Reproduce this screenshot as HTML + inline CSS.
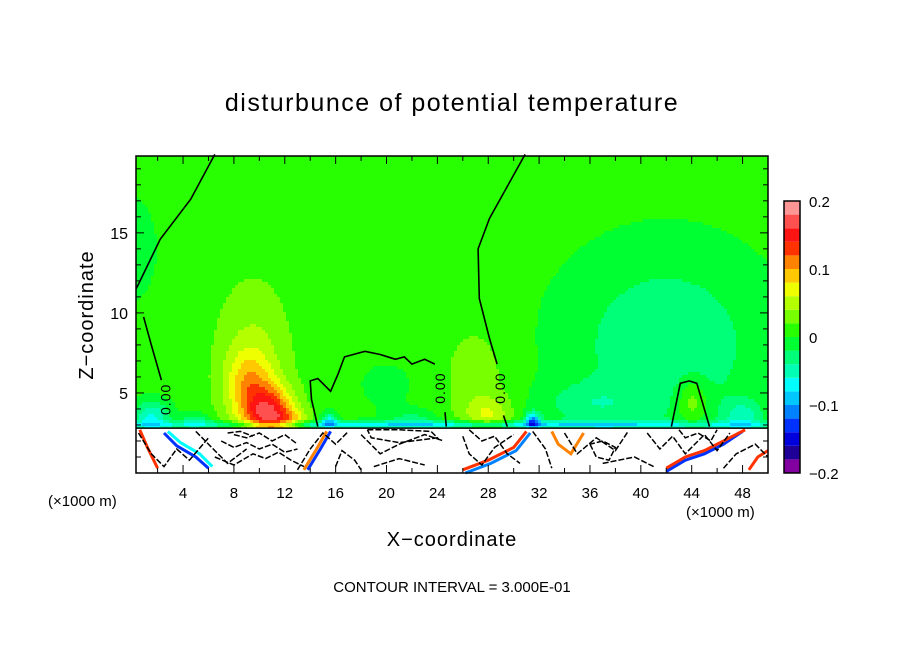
<!DOCTYPE html>
<html><head><meta charset="utf-8"><style>
html,body{margin:0;padding:0;background:#fff;}
svg{display:block;font-family:"Liberation Sans",sans-serif;}
</style></head><body>
<svg id="chart" width="904" height="654" viewBox="0 0 904 654">
<rect width="904" height="654" fill="#fff"/>
<text x="452" y="111" text-anchor="middle" font-size="25" letter-spacing="1.5">disturbunce of potential temperature</text>
<g id="field"></g>
<g id="lines"></g>
<g id="axes"></g>
<g id="cbar"></g>
<text x="452" y="546" text-anchor="middle" font-size="20" letter-spacing="1">X−coordinate</text>
<text transform="translate(93,315) rotate(-90)" text-anchor="middle" font-size="20" letter-spacing="1">Z−coordinate</text>
<text x="48" y="506" font-size="15">(×1000 m)</text>
<text x="686" y="517" font-size="15">(×1000 m)</text>
<text x="452" y="592" text-anchor="middle" font-size="15">CONTOUR INTERVAL = 3.000E-01</text>
</svg>
<script>
// ---- data ----
const xTicks = [4,8,12,16,20,24,28,32,36,40,44,48];
const zTicks = [5,10,15];
const levels = [-0.2,-0.18,-0.16,-0.14,-0.12,-0.1,-0.08,-0.06,-0.04,-0.02,0,0.02,0.04,0.06,0.08,0.1,0.12,0.14,0.16,0.18,0.2];
const levelColors = ["#8200a0","#1e0096","#0000dc","#0032ff","#0082ff","#00c8ff","#00ffff","#00ffb4","#00ff78","#00ff32","#28ff00","#78ff00","#b4ff00","#f0ff00","#ffc800","#ff8200","#ff3200","#ff1414","#ff5050","#ff9696"];
const cbarLabels = ["0.2","0.1","0","−0.1","−0.2"];
const cbarLabelVals = [0.2,0.1,0,-0.1,-0.2];
const baseValue = 0.008;
const blobX   = [10.8, 9.2, 9.5,  28,   27,   1.5,  0,     20,    42,    36,    31.5, 15.5, 44,   48,    25,   5,     22,   12.5];
const blobZ   = [3.6,  5.5, 7,    3.6,  6,    3.5,  14,    5.5,   8,     4.3,   3.3,  3.3,  4.5,  3.5,   3.0,  3.3,   3.4,  3.2];
const blobAmp = [0.13, 0.06,0.035,0.045,0.022,-0.07,-0.012,-0.012,-0.045,-0.03, -0.1, -0.07,0.045,-0.05, -0.08,-0.04, -0.03, 0.04];
const blobSx  = [1.9,  1.8, 3,    1.8,  2.8,  1.5,  3,     3,     8,     4,     0.6,  0.6,  1.2,  1.5,   30,   1.2,   2,    1.5];
const blobSz  = [1.7,  2.2, 5,    1.2,  3.5,  1.0,  5,     2,     6,     1.3,   0.5,  0.5,  1.5,  1.0,   0.25, 0.5,   0.6,  0.8];
const groundTop = 2.8;
// zero contour lines [x,z]
const zeroLines = [
 [[6.5,19.9],[4.6,17.1],[2.2,14.6],[0.5,11.8],[0.3,11.5]],
 [[0.9,9.75],[1.5,8],[2.3,5.8]],
 [[30.9,19.9],[28.1,15.9],[27.2,14],[27.3,10.9],[28.1,8.4],[28.7,6.8]],
 [[29.2,3.6],[29.5,2.9]],
 [[14.6,2.9],[14.1,4.6],[14,5.75],[14.6,5.9],[15.6,5.1],[16.2,6.2],[16.7,7.25],[18.3,7.6],[19.5,7.4],[20.7,7.1],[21.4,7.25],[22,6.8],[23,7.1],[23.8,6.8]],
 [[24.6,3.8],[24.7,2.9]],
 [[42.4,2.9],[43.1,5.6],[43.8,5.75],[44.4,5.6],[45.4,2.9]]
];
const labelPos = [[2.7,4.6],[24.3,5.3],[29,5.3]];
// ground-region squiggles [x,z]
const groundLines = [
 [[0.5,2.5],[1.5,1.2],[2.5,0.4],[3.5,1.5],[4.5,0.8],[6,2.2]],
 [[5,2.6],[6.5,1.4],[7.5,0.6],[9,1.5]],
 [[8,2.4],[9,2.2],[10,2.5],[11,2],[12,2.4],[13,1.8]],
 [[7,2.0],[8,1.6],[9,1.9],[10,1.5],[11,1.8],[12,1.3],[13,1.5]],
 [[6.5,1.0],[8,0.5],[9.5,1.2],[10.5,0.9],[11.5,1.3],[12.5,0.8],[13.5,0.4]],
 [[7.5,2.5],[8.5,2.6],[9.5,2.3]],
 [[13,0.2],[14,1.5],[15,2.5],[16,1.8],[17,2.6]],
 [[16,0.4],[16.5,1.4],[17.5,0.8],[18,0.2]],
 [[18,2.4],[19.5,1.2],[21,1.8],[23,2.4],[24.5,2.0]],
 [[18.5,2.7],[21,2.7],[23.5,2.6],[24,2.2],[21,1.9],[18.8,2.2],[18.5,2.7]],
 [[19,0.4],[21,0.9],[23,0.5]],
 [[26,2.3],[26.5,1.2],[27.5,0.5],[28.5,1.6],[30,2.4]],
 [[26.5,2.7],[27.5,2.0],[28.5,2.3],[29.5,1.2],[30.5,0.6]],
 [[31.5,2.6],[32.5,1.5],[33,0.3]],
 [[34,2.5],[35,1.2],[36.5,2.2],[38,1.4],[39,2.6]],
 [[36,1.8],[36.5,1.0],[37.5,0.8],[38,1.6],[37,2.0],[36,1.8]],
 [[37,0.6],[39.5,1],[41,0.4]],
 [[40.5,2.5],[41.5,1.5],[42.5,2.3],[43.5,1.2],[45,2.4],[46,1.4],[47,2.5]],
 [[43,2.7],[43.5,2.2],[44.5,2.5],[45.5,2.0],[46,2.7]],
 [[46.5,0.3],[47.5,1.2],[49,1.8],[50,1.0]]
];
const colorLines = [
 {c:"#ff3200",p:[[0.6,2.7],[1.2,1.6],[2,0.3]]},
 {c:"#0032ff",p:[[2.5,2.5],[3.5,1.7],[5,1.0],[6,0.3]]},
 {c:"#00ffff",p:[[2.8,2.6],[3.8,1.9],[5.3,1.2],[6.3,0.4]]},
 {c:"#ff8200",p:[[13.5,0.2],[14.5,1.5],[15.3,2.6]]},
 {c:"#0032ff",p:[[13.8,0.2],[14.8,1.5],[15.6,2.6]]},
 {c:"#ff3200",p:[[26,0.2],[28,0.8],[30,1.6],[31,2.6]]},
 {c:"#0082ff",p:[[26.2,0.0],[28.2,0.6],[30.2,1.4],[31.3,2.5]]},
 {c:"#ff8200",p:[[33,2.6],[33.5,1.8],[34.5,1.2],[35.5,2.5]]},
 {c:"#0032ff",p:[[42,0.1],[43.5,0.8],[45,1.2],[46.5,1.8],[48,2.6]]},
 {c:"#ff3200",p:[[42,0.3],[43.5,1.0],[45,1.4],[46.5,2.0],[48.2,2.7]]},
 {c:"#ff3200",p:[[48.5,0.2],[49.2,1],[50,1.4]]}
];
// ---- scales ----
const X0=136,X1=768,Y0=156,Y1=473;
const xMin=0.3,xMax=50,zMin=0,zMax=19.8;
const sx = x => X0+(x-xMin)/(xMax-xMin)*(X1-X0);
const sz = z => Y1-(z-zMin)/(zMax-zMin)*(Y1-Y0);
const NS="http://www.w3.org/2000/svg";
function mk(tag,attrs,parent){const e=document.createElementNS(NS,tag);for(const k in attrs)e.setAttribute(k,attrs[k]);parent.appendChild(e);return e;}
function field(x,z){let v=baseValue;for(let i=0;i<blobX.length;i++){const dx=(x-blobX[i])/blobSx[i],dz=(z-blobZ[i])/blobSz[i];v+=blobAmp[i]*Math.exp(-(dx*dx+dz*dz));}return v;}
function colorOf(v){let i=Math.floor((v+0.2)/0.02);i=Math.max(0,Math.min(19,i));return levelColors[i];}
// ---- shaded field ----
const fg=document.getElementById('field');
const step=3;
const nCols=Math.ceil((X1-X0)/step);
function emit(x0,x1,y,h,col){
  const r=mk('rect',{x:x0,y:y,width:x1-x0,height:h,fill:col},fg);
  
  
}
for(let py=Y0;py<Y1;py+=step){
  const zc=zMin+(Y1-(py+step/2))/(Y1-Y0)*(zMax-zMin);
  if(zc<groundTop-0.2) continue;
  const h=Math.min(step,Y1-py)+0.5;
  let runStart=X0,runCol=null;
  for(let c=0;c<nCols;c++){
    const px=X0+c*step;
    const xc=xMin+(px+step/2-X0)/(X1-X0)*(xMax-xMin);
    const col=colorOf(field(xc,zc));
    if(col!==runCol){
      if(runCol) emit(runStart,px+0.5,py,h,runCol);
      runStart=px;runCol=col;
    }
  }
  if(runCol) emit(runStart,X1,py,h,runCol);
}
const gr=mk('rect',{x:X0,y:sz(groundTop),width:X1-X0,height:Y1-sz(groundTop),fill:"#fff"},fg);


// ---- lines ----
const lg=document.getElementById('lines');
const toPts=p=>p.map(q=>sx(q[0]).toFixed(1)+","+sz(q[1]).toFixed(1)).join(" ");
colorLines.forEach(l=>{const e=mk('polyline',{points:toPts(l.p),fill:"none",stroke:l.c,"stroke-width":3},lg);
  
  });
groundLines.forEach(p=>{const e=mk('polyline',{points:toPts(p),fill:"none",stroke:"#000","stroke-width":1.5,"stroke-dasharray":"6,2"},lg);
  
  });
const st=mk('line',{x1:X0,x2:X1,y1:sz(groundTop),y2:sz(groundTop),stroke:"#000","stroke-width":1.5},lg);


zeroLines.forEach(p=>{const e=mk('polyline',{points:toPts(p),fill:"none",stroke:"#000","stroke-width":1.6},lg);
  
  });
labelPos.forEach(q=>{const t=mk('text',{transform:`translate(${sx(q[0])+4},${sz(q[1])}) rotate(-90)`,"text-anchor":"middle","font-size":14,"letter-spacing":"1"},lg);t.textContent="0.00";
  
  });
// ---- axes ----
const ax=document.getElementById('axes');
const fr=mk('rect',{x:X0,y:Y0,width:X1-X0,height:Y1-Y0,fill:"none",stroke:"#000","stroke-width":1.5},ax);


for(let z=1;z<20;z++){const L=z%5===0?8:5;
  const t=mk('line',{x1:X0,x2:X0+L,y1:sz(z),y2:sz(z),stroke:"#000"},ax);
  
  
  const t2=mk('line',{x1:X1,x2:X1-L,y1:sz(z),y2:sz(z),stroke:"#000"},ax);
  
  }
zTicks.forEach(z=>{const t=mk('text',{x:X0-8,y:sz(z)+6,"text-anchor":"end","font-size":16},ax);t.textContent=z;
  
  });
for(let x=2;x<50;x+=2){const L=x%4===0?8:5;
  const t=mk('line',{x1:sx(x),x2:sx(x),y1:Y1,y2:Y1-L,stroke:"#000"},ax);
  
  
  const t2=mk('line',{x1:sx(x),x2:sx(x),y1:Y0,y2:Y0+L,stroke:"#000"},ax);
  
  }
xTicks.forEach(x=>{const t=mk('text',{x:sx(x),y:498,"text-anchor":"middle","font-size":15},ax);t.textContent=x;
  
  });
// ---- colorbar ----
const cb=document.getElementById('cbar');
const CX=784,CW=16,CT=201,CB=473;
const cy=v=>CB-(v+0.2)/0.4*(CB-CT);
for(let i=0;i<levelColors.length;i++){
  const r=mk('rect',{x:CX,y:cy(levels[i+1]),width:CW,height:cy(levels[i])-cy(levels[i+1]),fill:levelColors[i]},cb);
  
  
}
const cf=mk('rect',{x:CX,y:CT,width:CW,height:CB-CT,fill:"none",stroke:"#000","stroke-width":1.5},cb);


cbarLabels.forEach((s,i)=>{const t=mk('text',{x:809,y:cy(cbarLabelVals[i])+6,"font-size":15},cb);t.textContent=s;
  
  });
</script>
</body></html>
